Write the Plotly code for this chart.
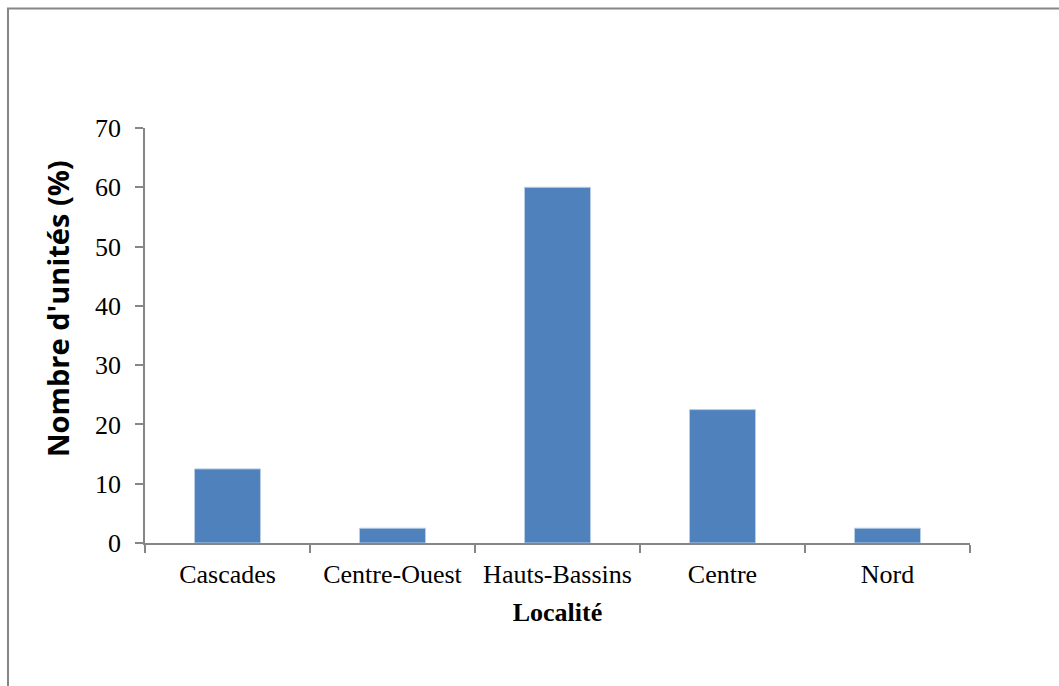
import plotly.graph_objects as go

categories = ["Cascades", "Centre-Ouest", "Hauts-Bassins", "Centre", "Nord"]
values = [12.5, 2.5, 60, 22.5, 2.5]
y_ticks = [0, 10, 20, 30, 40, 50, 60, 70]

axis_color = "#868686"
serif = "Liberation Serif, Times New Roman, serif"

fig = go.Figure(go.Bar(
    x=categories, y=values,
    marker=dict(color="#4F81BD", line=dict(color="#B9CDE5", width=1)),
))

fig.update_layout(
    width=1059, height=686,
    margin=dict(l=145, r=89, t=128, b=143),
    paper_bgcolor="white", plot_bgcolor="white",
    bargap=0.6, showlegend=False,
    font=dict(family=serif, size=26, color="black"),
    xaxis=dict(
        showline=True, linecolor=axis_color, linewidth=1.5,
        ticks="outside", tickson="boundaries", ticklen=8, tickcolor=axis_color, tickwidth=1.5,
        tickfont=dict(family=serif, size=26), showgrid=False,
        ticklabelstandoff=7,
        title=dict(text="<b>Localité</b>", font=dict(family=serif, size=26), standoff=15),
    ),
    yaxis=dict(
        range=[0, 70], tickvals=y_ticks,
        showline=True, linecolor=axis_color, linewidth=1.5,
        ticks="outside", ticklen=8, tickcolor=axis_color, tickwidth=1.5,
        tickfont=dict(family=serif, size=26), showgrid=False, zeroline=False,
        ticklabelstandoff=9,
    ),
    annotations=[dict(text="<b>Nombre d'unités (%)</b>", xref="paper", yref="paper",
                      x=(57 - 145) / 825, y=(543 - 309) / 415, textangle=-90,
                      showarrow=False, xanchor="center", yanchor="middle",
                      font=dict(family="Open Sans, sans-serif", size=29, color="black"))],
    shapes=[dict(type="rect", xref="paper", yref="paper",
                 x0=(8 - 145) / 825, x1=(1065 - 145) / 825,
                 y0=(543 - 700) / 415, y1=(543 - 8.5) / 415,
                 line=dict(color="#868686", width=2), fillcolor="rgba(0,0,0,0)", layer="below")],
)

fig.write_html("out.html")
